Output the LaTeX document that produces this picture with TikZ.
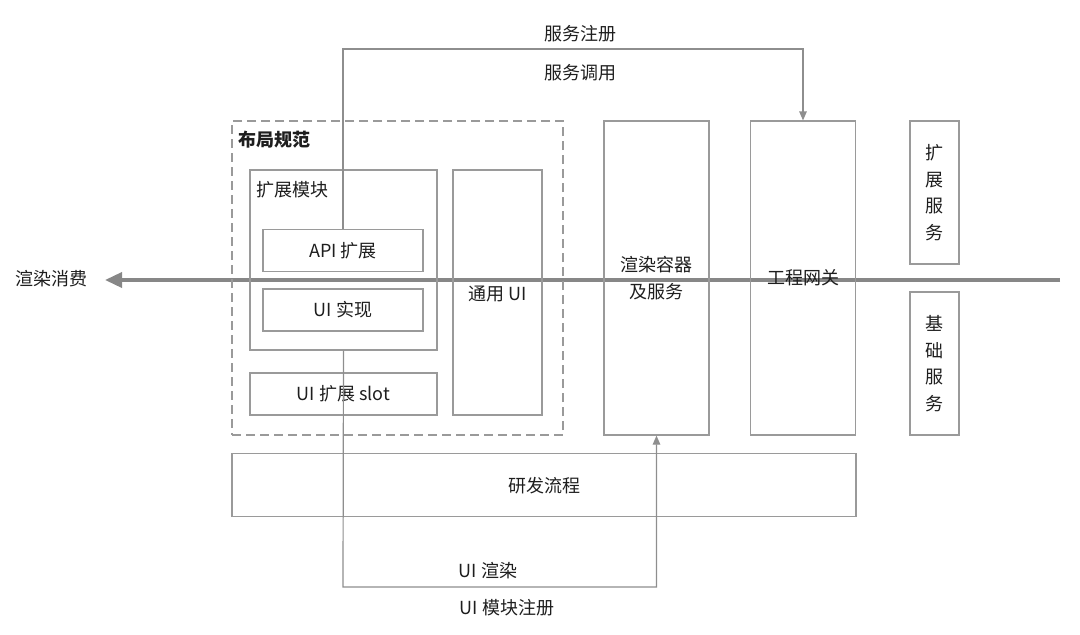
\documentclass[tikz,border=0pt]{standalone}
\usepackage{fontspec}
\setmainfont{Noto Sans CJK SC}
\usetikzlibrary{arrows.meta}
\definecolor{boxgray}{HTML}{9A9A9A}
\definecolor{linegray}{HTML}{8E8E8E}
\definecolor{arrowgray}{HTML}{878787}
\definecolor{txt}{HTML}{1E1E1E}
\begin{document}
\begin{tikzpicture}[x=1pt,y=-1pt,
  every node/.style={text=txt,font=\fontsize{18}{26.5}\selectfont,inner sep=0pt},
  box/.style={draw=boxgray,line width=1.2pt,minimum width=#1},
  dashbox/.style={draw=boxgray,line width=1.2pt,dash pattern=on 9pt off 5pt},
  conn/.style={draw=linegray,line width=1.2pt,-{Triangle[length=9pt,width=7.5pt]}},
  mainarrow/.style={draw=arrowgray,line width=3.5pt,-{Triangle[length=17pt,width=15pt]}}]
\useasboundingbox (0,0) rectangle (1080,635);
% main flow arrow (drawn first, under the texts)
\coordinate (mainstart) at (1060,280);
\coordinate (maintip) at (105,280);
\node[anchor=center] (consume) at (52,279) {渲染消费};
\draw[mainarrow] (mainstart) -- (maintip);
% layout spec dashed area
\node[dashbox,minimum width=331pt,minimum height=314pt] (layout) at (397.5,278) {};
\node[anchor=west,font=\fontsize{18}{26.5}\selectfont\bfseries] (layoutlbl) at (238,140) {布局规范};
% extension module
\node[box=187pt,minimum height=180pt] (mod) at (343.5,260) {};
\node[anchor=west] (modlbl) at (256,190) {扩展模块};
\node[box=160pt,minimum height=42pt] (api) at (343,250.5) {API 扩展};
\node[box=160pt,minimum height=42pt] (uiimpl) at (343,310) {UI 实现};
\node[box=187pt,minimum height=42pt] (slot) at (343.5,394) {UI 扩展 slot};
\node[box=89pt,minimum height=245pt] (common) at (497.5,292.5) {};
\node (commonlbl) at (497.5,294) {通用 UI};
% containers
\node[box=105pt,minimum height=314pt,align=center] (rc) at (656.5,278) {渲染容器\\及服务};
\node[box=105pt,minimum height=314pt] (gw) at (803,278) {工程网关};
\node[box=49pt,minimum height=143pt,align=center] (extsvc) at (934.5,192.5) {扩\\展\\服\\务};
\node[box=49pt,minimum height=143pt,align=center] (basesvc) at (934.5,363.5) {基\\础\\服\\务};
% dev process
\node[box=624pt,minimum height=63pt] (dev) at (544,485) {};
\node (devlbl) at (544,486) {研发流程};
% service registration / call
\coordinate (topleft) at (343,49);
\coordinate (topright) at (803,49);
\draw[conn] (api.north) -- (topleft) -- (topright) -- (gw.north);
\node (reg) at (580,34) {服务注册};
\node (call) at (580,73) {服务调用};
% UI render / module registration
\coordinate (botleft) at (343,587);
\coordinate (botright) at (656.5,587);
\draw[conn] (mod.south) -- (botleft) -- (botright) -- (rc.south);
\node (render) at (488,571) {UI 渲染};
\node (modreg) at (507,608) {UI 模块注册};
\end{tikzpicture}
\end{document}
